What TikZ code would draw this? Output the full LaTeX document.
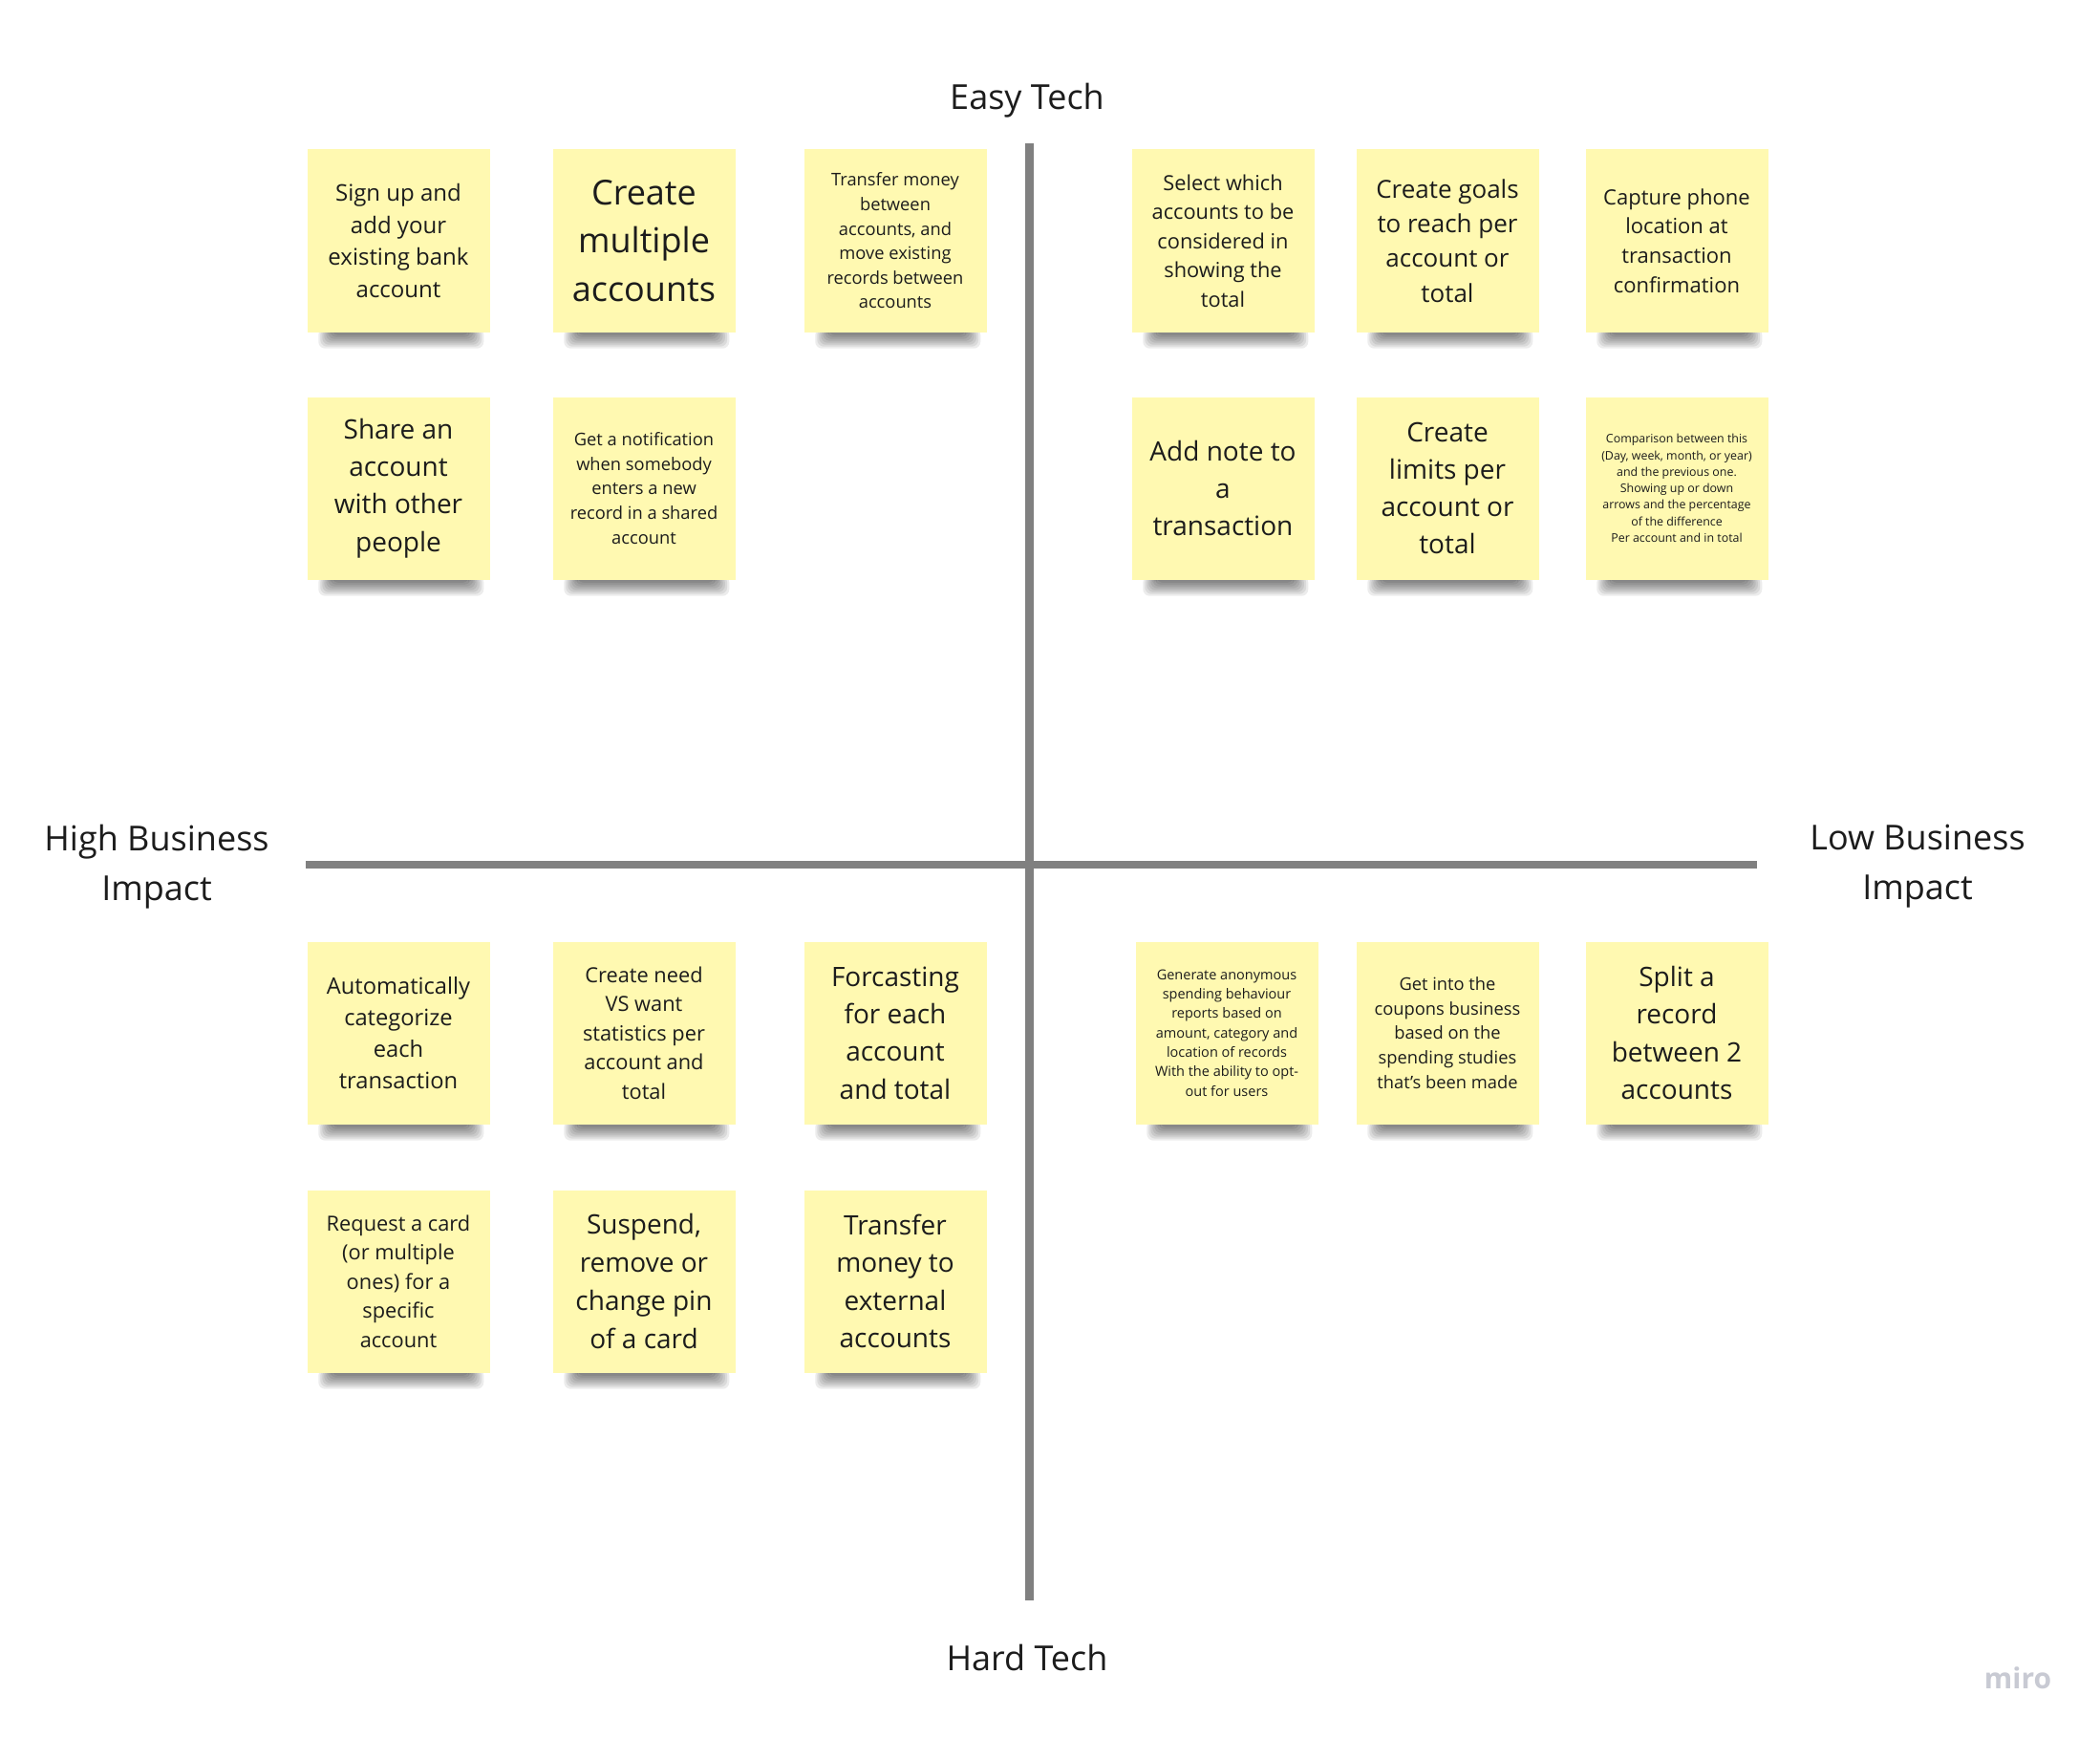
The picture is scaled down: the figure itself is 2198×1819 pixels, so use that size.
\documentclass[tikz,border=0pt]{standalone}
\usepackage{fontspec}
\setmainfont{Open Sans}

\definecolor{notebg}{HTML}{FFF9B1}
\definecolor{notetext}{HTML}{1C1C1C}
\definecolor{axisgray}{HTML}{808080}
\definecolor{mirogray}{HTML}{C8CAD3}

\pgfdeclarelayer{bg}
\pgfsetlayers{bg,main}

\tikzset{
  fs/.style 2 args={font=\fontsize{#1}{#2}\selectfont},
  note/.style={fill=notebg, minimum width=191, minimum height=191, inner sep=0pt,
    align=center, text=notetext},
  axis/.style={draw=axisgray, line width=9pt},
  axislabel/.style={align=center, text=notetext, fs={36}{52}}
}

\begin{document}
\begin{tikzpicture}[x=1pt, y=-1pt]
  \useasboundingbox (0,0) rectangle (2198,1819);

  % axes
  \coordinate (top) at (1077,150);
  \coordinate (bottom) at (1077,1675);
  \coordinate (left) at (320,905);
  \coordinate (right) at (1839,905);
  \draw[axis, line width=8pt] (left) -- (right);
  \draw[axis] (top) -- (bottom);

  \node[axislabel] (easy) at (1075,105) {Easy Tech};
  \node[axislabel] (hard) at (1075,1735) {Hard Tech};
  \node[axislabel] (high) at (164,907) {High Business\\Impact};
  \node[axislabel] (low) at (2007,907) {Low Business\\Impact};

  % easy tech, high impact
  \node[note, fs={24}{33.6}] (signup) at (417,252) {Sign up and\\add your\\existing bank\\account};
  \node[note, fs={36}{50.5}] (multi) at (674,252) {Create\\multiple\\accounts};
  \node[note, fs={18.3}{25.6}] (transfer) at (937,252) {Transfer money\\between\\accounts, and\\move existing\\records between\\accounts};
  \node[note, fs={28}{39.3}] (share) at (417,511) {Share an\\account\\with other\\people};
  \node[note, fs={18.3}{25.6}] (notify) at (674,511) {Get a notification\\when somebody\\enters a new\\record in a shared\\account};

  % easy tech, low impact
  \node[note, fs={21.8}{30.5}] (select) at (1280,252) {Select which\\accounts to be\\considered in\\showing the\\total};
  \node[note, fs={26}{36.5}] (goals) at (1515,252) {Create goals\\to reach per\\account or\\total};
  \node[note, fs={22}{30.8}] (capture) at (1755,252) {Capture phone\\location at\\transaction\\confirmation};
  \node[note, fs={28}{39.3}] (addnote) at (1280,511) {Add note to\\a\\transaction};
  \node[note, fs={28}{39.3}] (limits) at (1515,511) {Create\\limits per\\account or\\total};
  \node[note, fs={12.4}{17.3}] (compare) at (1755,511) {Comparison between this\\(Day, week, month, or year)\\and the previous one.\\Showing up or down\\arrows and the percentage\\of the difference\\Per account and in total};

  % hard tech, high impact
  \node[note, fs={23.7}{33.2}] (categorize) at (417,1081) {Automatically\\categorize\\each\\transaction};
  \node[note, fs={21.8}{30.5}] (needwant) at (674,1081) {Create need\\VS want\\statistics per\\account and\\total};
  \node[note, fs={28}{39.3}] (forecast) at (937,1081) {Forcasting\\for each\\account\\and total};
  \node[note, fs={21.8}{30.5}] (card) at (417,1341) {Request a card\\(or multiple\\ones) for a\\specific\\account};
  \node[note, fs={28}{39.7}] (suspend) at (674,1341) {Suspend,\\remove or\\change pin\\of a card};
  \node[note, fs={28}{39.3}] (external) at (937,1341) {Transfer\\money to\\external\\accounts};

  % hard tech, low impact
  \node[note, fs={14.5}{20.3}] (reports) at (1284,1081) {Generate anonymous\\spending behaviour\\reports based on\\amount, category and\\location of records\\With the ability to opt-\\out for users};
  \node[note, fs={18.3}{25.6}] (coupons) at (1515,1081) {Get into the\\coupons business\\based on the\\spending studies\\that's been made};
  \node[note, fs={28}{39.3}] (split) at (1755,1081) {Split a\\record\\between 2\\accounts};

  % background and soft shadows under the notes
  \begin{pgfonlayer}{bg}
    \fill[white] (0,0) rectangle (2198,1819);
    \foreach \n in {signup,multi,transfer,share,notify,select,goals,capture,addnote,limits,
                    compare,categorize,needwant,forecast,card,suspend,external,reports,coupons,split}
      \foreach \k in {1,...,8}
        \fill[black, opacity=0.075, rounded corners=7pt]
          ([xshift={28-2*\k}, yshift=4pt]\n.south west)
            rectangle ([xshift={-24+2.2*\k}, yshift={-1-2*\k}]\n.south east);
  \end{pgfonlayer}

  \node[font=\bfseries\fontsize{30}{36}\selectfont, text=mirogray] (logo) at (2112,1756) {miro};
\end{tikzpicture}
\end{document}
